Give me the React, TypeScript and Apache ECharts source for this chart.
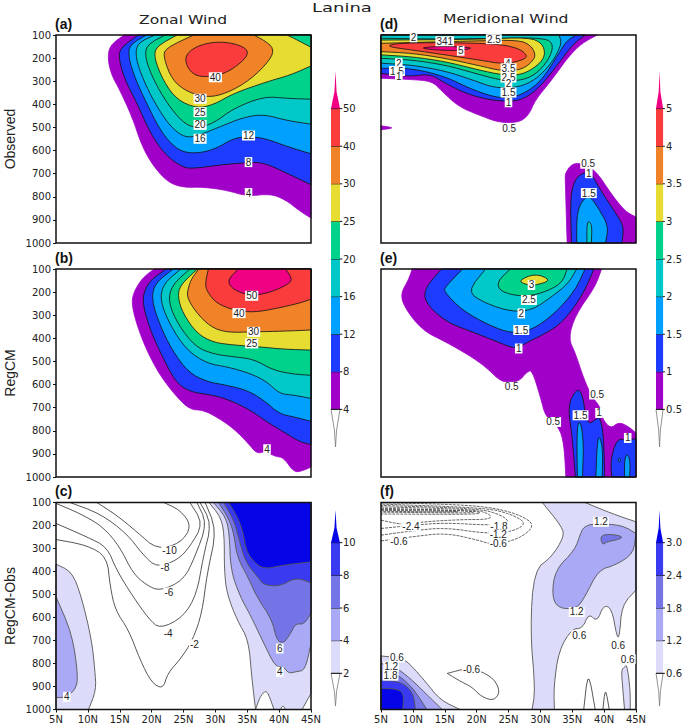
import React, { useEffect, useRef } from "react";
import * as echarts from "echarts";

type Pt = number[];
type Fill = [number, Pt[]];
type Label = [number, number, string];

const xTicks = [5, 10, 15, 20, 25, 30, 35, 40, 45];
const zonalLevels = [4, 8, 12, 16, 20, 25, 30, 40, 50];
const meridLevels = [0.5, 1, 1.5, 2, 2.5, 3, 3.5, 4, 5];
const zonalDiffLevels = [2, 4, 6, 8, 10];
const meridDiffLevels = [0.6, 1.2, 1.8, 2.4, 3.0];

const zonalObs: Fill[] = [
  [4, [[15.7,100],[13.5,143],[13.1,200],[13.7,273],[15,338],[16.9,452],[18.5,582],[20.3,669],[22.6,738],[25,760],[28.1,758],[31.8,772],[35,798],[38.6,787],[41,813],[43.3,863],[45,892],[45,100]]],
  [8, [[17.9,100],[15,158],[14.9,208],[15.8,294],[17.7,395],[19.8,525],[22.1,618],[25,676],[27.1,676],[30.8,662],[35,652],[37.6,652],[41.2,698],[45,748],[45,100]]],
  [12, [[19.2,100],[16.5,143],[16.4,200],[17.4,287],[19.2,395],[21.3,510],[23.2,575],[25,608],[27.6,611],[30.2,590],[32.9,546],[35.5,539],[38.1,550],[41.2,582],[45,614],[45,100]]],
  [16, [[20.5,100],[17.7,136],[17.5,200],[18.7,294],[20.5,395],[22.9,496],[25.3,546],[27.6,532],[30.2,503],[34.4,456],[37.6,443],[41.2,470],[45,486],[45,100]]],
  [20, [[22.1,100],[19.2,143],[19,200],[20.3,294],[22.4,395],[25,482],[27.1,503],[29.7,482],[32.9,417],[37.6,366],[41.2,374],[45,378],[45,100]]],
  [25, [[24,100],[20.7,150],[20.4,200],[21.9,302],[24,381],[27.1,417],[29.7,402],[32.9,352],[38.1,302],[41.8,273],[45,234],[45,153],[42.3,114],[41.2,100]]],
  [30, [[26.6,100],[22.1,158],[21.9,200],[23.2,294],[25.5,345],[28.7,371],[31.8,352],[35.5,294],[38.6,208],[39.2,158],[37.6,122],[36,100]]],
  [40, [[25.8,172],[27.6,143],[30.2,129],[32.9,136],[35,160],[35,194],[32.9,244],[30.8,273],[27.6,283],[26,258],[25.2,208]]],
];
const zonalObsLabels: Label[] = [[30,283,"40"],[27.6,376,"30"],[27.6,434,"25"],[27.6,489,"20"],[27.6,549,"16"],[35.2,535,"12"],[35.2,650,"8"],[35.2,784,"4"]];

const zonalModel: Fill[] = [
  [4, [[20.4,100],[18.5,140],[17.1,205],[16.9,256],[17.7,343],[19.2,451],[21.3,560],[23.9,653],[26,708],[28.1,711],[30.2,740],[32.9,791],[35.2,856],[36.5,899],[37.8,889],[39.4,911],[40.7,916],[42.3,979],[43.6,974],[45,957],[45,100]]],
  [8, [[22.3,100],[19.8,148],[18.7,205],[18.7,263],[19.8,364],[21.3,458],[23.7,588],[26,632],[29.7,646],[32.3,668],[35.5,711],[38.1,762],[40.7,805],[43.3,849],[45,859],[45,100]]],
  [12, [[23.4,100],[20.5,162],[20,234],[21.3,343],[23.2,451],[25.8,548],[28.7,588],[31.8,603],[35,625],[37.6,668],[40,726],[42.3,740],[45,759],[45,100]]],
  [16, [[24.6,100],[21.9,162],[21.3,234],[22.9,343],[25.5,451],[28.7,509],[31.8,523],[35.5,552],[38.1,588],[40,639],[42.3,646],[45,660],[45,100]]],
  [20, [[26,100],[23.2,169],[22.6,242],[24.2,343],[26.9,437],[29.7,468],[32.9,480],[36,490],[39.1,538],[42.3,555],[45,560],[45,100]]],
  [25, [[27.2,100],[24.5,169],[24.1,220],[24.9,292],[27.1,379],[29.7,418],[32.9,429],[37,437],[40.7,447],[45,451],[45,100]]],
  [30, [[27.4,100],[26.3,140],[25.8,177],[25.5,220],[26.9,285],[29.2,350],[31.8,375],[36,372],[40.7,369],[45,364],[45,100]]],
  [40, [[28.9,100],[28.4,162],[28.7,198],[30.2,249],[32.9,278],[36,288],[39.7,270],[43,249],[45,231],[45,100]]],
  [50, [[33.6,100],[31.8,151],[32.9,191],[35.5,216],[38.1,205],[40.7,177],[42.2,148],[41,100]]],
];
const zonalModelLabels: Label[] = [[35.7,216,"50"],[33.7,291,"40"],[36,372,"30"],[35.7,422,"25"],[38.1,880,"4"]];

const zonalDiff: Fill[] = [
  [2, [[5,368],[7.5,401],[9,510],[10.6,698],[11.1,829],[11.3,916],[10.1,1000],[5,1000]]],
  [4, [[5,510],[7.5,669],[8.5,858],[8,916],[6.4,948],[5,948]]],
  [2, [[29,100],[30.8,162],[31.4,235],[31.4,394],[31.8,496],[33.4,611],[35.2,698],[35.7,858],[36.3,1000],[37,945],[37.8,919],[38.3,930],[39.2,1000],[40.2,1000],[40.6,981],[41,1000],[43.6,1000],[45,930],[45,100]]],
  [4, [[29.7,100],[31.6,162],[32.2,235],[32.4,394],[33.9,510],[35.5,590],[37.6,713],[39.4,814],[40.7,814],[41.5,843],[42.6,836],[44.1,829],[45,713],[45,100]]],
  [6, [[30.5,100],[32.1,170],[32.9,235],[33.4,336],[35.2,430],[36.5,510],[38.9,611],[39.6,698],[40.7,713],[41.8,669],[42.6,626],[43.9,630],[45,582],[45,100]]],
  [8, [[31.3,100],[32.9,177],[33.6,249],[34.7,358],[36.8,430],[37.6,459],[40.2,464],[42.6,426],[45,449],[45,100]]],
  [10, [[32.1,100],[33.6,170],[34.4,235],[34.8,307],[36,358],[37.6,390],[40.7,372],[45,358],[45,100]]],
];
const zonalDiffLines: Pt[][] = [
  [[5,261],[9.8,285],[13,336],[13.5,466],[14.3,568],[16.4,655],[18.2,785],[20,884],[21.8,911],[22.5,843],[24.6,778],[26.4,700],[27.9,582],[28.7,409],[30.2,220],[28.4,100]],
  [[5,191],[9.8,249],[13,293],[14.5,394],[17.1,510],[19.5,604],[21.3,650],[25,597],[27.1,496],[28.1,336],[29.4,191],[27.6,100]],
  [[5,104],[8.8,148],[12.4,206],[15,293],[17.1,409],[19.2,459],[21.3,485],[25,438],[26.8,336],[28.7,191],[27.1,100]],
  [[7.2,100],[11.9,148],[16.1,235],[18.7,329],[20.8,382],[24,351],[26,293],[28.1,191],[26,100]],
  [[11.4,100],[14.5,155],[17.7,228],[20.8,304],[24.5,278],[26.3,203],[24.5,133],[21.9,100]],
];
const zonalDiffLabels: Label[] = [[22.8,310,"-10"],[22.1,384,"-8"],[22.7,491,"-6"],[22.6,669,"-4"],[26.7,717,"-2"],[6.7,945,"4"],[40.1,735,"6"],[40.1,836,"4"]];

const meridObs: Fill[] = [
  [0.5, [[5,287],[9.3,292],[13,299],[14.6,345],[17.2,410],[20.3,446],[23.5,479],[26.6,479],[28.2,446],[29.2,381],[31.8,294],[34.4,194],[36.5,136],[38.9,100],[5,100]]],
  [0.5, [[5,493],[7.2,502],[5,510]]],
  [1, [[5,266],[9.3,280],[12.7,268],[15.1,309],[18.2,352],[21.9,381],[25.5,388],[27.6,374],[30,323],[32.9,222],[35,143],[37,100],[5,100]]],
  [1.5, [[5,244],[9.9,244],[15.1,280],[18.8,330],[22.4,366],[25,374],[27.6,352],[30.3,294],[32.9,179],[34.2,122],[35.7,100],[5,100]]],
  [2, [[5,222],[9.9,230],[15.1,256],[19.3,294],[22.9,330],[26.6,326],[29.2,294],[31.8,222],[33.4,136],[32.9,100],[5,100]]],
  [2.5, [[5,201],[9.9,208],[15.1,230],[19.8,266],[23.5,294],[26.6,299],[29.2,273],[31.3,208],[32.1,143],[30.8,112],[23,114],[15.1,118],[5,114]]],
  [3, [[5,186],[9.9,194],[15.1,215],[20.3,251],[24,273],[27.1,273],[29.7,230],[30.8,186],[30.3,136],[28.2,110],[20.3,119],[5,122]]],
  [3.5, [[5,172],[9.9,179],[15.1,201],[20.3,232],[24,256],[27.1,251],[29,208],[29.2,179],[28.4,143],[26.6,122],[20.3,125],[5,136]]],
  [4, [[5.9,150],[9.9,165],[15.1,186],[20.3,208],[24.5,227],[27.6,205],[27.9,186],[26.6,158],[23.5,139],[15.1,132],[7.2,136]]],
  [5, [[10.9,155],[15.1,148],[19.8,155],[17.2,168],[13.5,165]]],
  [0.5, [[34.2,1000],[33.9,726],[33.9,698],[34.9,659],[36.3,654],[38.6,683],[41.2,791],[43.3,863],[45,888],[45,1000]]],
  [1, [[34.9,1000],[34.7,842],[35,755],[36,705],[37.8,690],[39.4,770],[41.8,870],[43.1,928],[42.8,1000]]],
  [1.5, [[35.7,1000],[35.7,885],[36.3,827],[37.6,791],[39.1,849],[40.7,928],[40.2,1000]]],
  [2, [[37.3,1000],[37.3,914],[37.7,906],[38.1,928],[38,1000]]],
];
const meridObsLabels: Label[] = [[10.1,110,"2"],[15,127,"341"],[22.7,118,"2.5"],[17.5,168,"5"],[24.9,222,"4"],[25,244,"3.5"],[25,284,"2.5"],[25,312,"2"],[25,349,"1.5"],[25,391,"1"],[25.1,503,"0.5"],[7.8,222,"2"],[7.5,256,"1.5"],[7.8,280,"1"],[37.5,657,"0.5"],[37.6,698,"1"],[37.6,784,"1.5"]];

const meridModel: Fill[] = [
  [0.5, [[9.9,100],[9.3,148],[8.1,205],[8.6,263],[11.4,364],[15.1,415],[18.8,473],[21.4,523],[24,593],[26.6,588],[27.9,545],[28.7,538],[30,653],[30.8,740],[32.9,783],[33.7,856],[34,1000],[45,1000],[45,810],[43.9,783],[42.3,762],[41,791],[39.7,747],[39.4,697],[38.1,653],[36.8,574],[35.5,465],[34.4,400],[35.5,299],[38.6,177],[39.6,100]]],
  [1, [[14.5,100],[12,177],[11.8,242],[15.1,328],[19.3,372],[22.9,411],[26.1,447],[27.6,422],[30.3,386],[32.9,343],[35,278],[37,191],[38.4,100]]],
  [1.5, [[17.8,100],[15.1,177],[14.9,198],[17.7,278],[21.9,343],[25.5,379],[28.7,364],[32.3,292],[35.5,191],[37,100]]],
  [2, [[21.4,100],[18.5,198],[21.4,249],[25.5,285],[28.7,278],[31.8,220],[34.4,162],[35.7,100]]],
  [2.5, [[25.3,100],[23.2,155],[23.7,198],[27.1,220],[30.3,205],[33.4,162],[34.2,100]]],
  [3, [[26.5,151],[29.2,119],[31.7,148],[29.5,169],[27.9,169]]],
  [1, [[34.3,689],[35.7,617],[36.6,639],[37.3,776],[38.9,747],[39.3,740],[39.9,812],[40.1,1000],[35.5,1000],[35,827]]],
  [1, [[41,928],[42,834],[43.6,841],[45,834],[45,1000],[41.2,1000]]],
  [1.5, [[35.8,1000],[35.7,783],[36.3,754],[36.8,856],[36.6,1000]]],
  [1.5, [[38.7,1000],[38.9,856],[39.3,819],[39.8,885],[39.7,1000]]],
  [1.5, [[43.2,1000],[43.2,921],[43.7,899],[44.1,935],[44,1000]]],
  [1.5, [[42.2,925],[42.4,918],[42.6,925],[42.4,938]]],
];
const meridModelLabels: Label[] = [[28.6,169,"3"],[28.2,234,"2.5"],[27,292,"2"],[27,364,"1.5"],[26.6,444,"1"],[25.5,610,"0.5"],[38.9,643,"0.5"],[36.3,733,"1.5"],[39.2,723,"1"],[32,762,"0.5"],[43.7,831,"1"]];

const meridDiff: Fill[] = [
  [0.6, [[30.3,100],[33.4,206],[33.7,249],[31.8,336],[29,394],[28.4,655],[29.2,916],[28.7,1000],[32.2,1000],[32.1,901],[32.9,742],[35,648],[36.6,648],[37.6,582],[38.9,619],[39.9,546],[41.2,561],[42,684],[42.4,684],[42.8,546],[45,481],[45,184],[41.2,148],[37,100]]],
  [0.6, [[42.7,830],[43.2,814],[43.6,807],[44.1,916],[44.1,1000],[43.2,1000],[42.9,901]]],
  [1.2, [[36.8,206],[38.4,191],[42.8,198],[45,235],[44.6,322],[41.8,372],[39.1,394],[37,510],[35.7,561],[32.9,561],[31.8,510],[32.3,394],[35.4,307],[36.3,235]]],
  [1.8, [[39.4,242],[41.2,238],[43,249],[42.2,261],[40.4,271],[39.7,285]]],
  [0.6, [[5,767],[8.6,778],[10.4,829],[12,880],[14.3,959],[17.4,1000],[5,1000]]],
  [1.2, [[5,800],[7.2,814],[9.6,865],[12,930],[14.6,1000],[5,1000]]],
  [1.8, [[5,836],[7.2,840],[9.9,901],[12.2,1000],[5,1000]]],
  [2.4, [[5,872],[8.3,880],[10.1,930],[10.4,1000],[5,1000]]],
  [3.0, [[5,908],[7.7,911],[8.6,937],[8.4,1000],[5,1000]]],
];
const meridDiffSolidLines: Pt[][] = [
  [[36.8,1000],[37.5,825],[38.6,1000]],
  [[39.8,1000],[40.2,901],[40.8,1000]],
  [[15.4,843],[18.4,821],[20.3,829],[22.7,865],[23.7,923],[22.7,962],[20.8,945],[19.2,901],[17.6,880],[15.4,843]],
];
const meridDiffDashedLines: Pt[][] = [
  [[5,267],[9.9,249],[15.1,232],[20.3,264],[22.4,283],[26.5,261],[29.3,199],[26.6,151],[21.9,119],[15.1,107],[5,101]],
  [[5,242],[9.9,223],[15.1,209],[21.4,235],[25.5,228],[27.9,191],[25.5,151],[21.4,123],[5,107]],
  [[5,213],[9.9,199],[15.1,188],[21.9,199],[25.3,191],[24,155],[20.3,126],[5,113]],
  [[5,177],[8.8,199],[11.4,184],[17.7,174],[21.9,174],[22.4,155],[19.8,130],[5,119]],
  [[5,125],[19,136],[21,145],[19,152],[5,150]],
  [[5,130],[18,135],[20,142],[18,146],[5,142]],
  [[5,134],[17,138],[17,142],[5,138]],
];
const meridDiffLabels: Label[] = [[39.5,184,"1.2"],[9.7,203,"-2.4"],[23.5,206,"-1.8"],[23.4,239,"-1.2"],[23.4,278,"-0.6"],[7.8,268,"-0.6"],[35.7,576,"1.2"],[36.1,677,"0.6"],[42.2,723,"0.6"],[43.7,781,"0.6"],[7.5,774,"0.6"],[6.6,812,"1.2"],[6.5,853,"1.8"],[19.2,826,"-0.6"]];

const rainbow = ["#a000c8", "#1e3cff", "#00a0ff", "#00c8c8", "#00d28c", "#e6dc32", "#f08228", "#fa3c3c", "#f00082"];
const blues = ["#dcdcfa", "#a9a9f5", "#7474e6", "#3a3af0", "#0505e8"];
const ink = "#111";
const FONT = "DejaVu Sans";

const panels = [
  { name: "Observed", left: 56, top: 35, h: 208, levels: zonalLevels, colors: rainbow, fills: zonalObs, solid: [], dashed: [], labels: zonalObsLabels, outer: false, xl: false, yl: true },
  { name: "RegCM", left: 56, top: 269, h: 208, levels: zonalLevels, colors: rainbow, fills: zonalModel, solid: [], dashed: [], labels: zonalModelLabels, outer: false, xl: false, yl: true },
  { name: "RegCM-Obs", left: 56, top: 502.5, h: 207, levels: zonalDiffLevels, colors: blues, fills: zonalDiff, solid: zonalDiffLines, dashed: [], labels: zonalDiffLabels, outer: true, xl: true, yl: true },
  { name: "", left: 381, top: 35, h: 208, levels: meridLevels, colors: rainbow, fills: meridObs, solid: [], dashed: [], labels: meridObsLabels, outer: false, xl: false, yl: false },
  { name: "", left: 381, top: 269, h: 208, levels: meridLevels, colors: rainbow, fills: meridModel, solid: [], dashed: [], labels: meridModelLabels, outer: false, xl: false, yl: false },
  { name: "", left: 381, top: 502.5, h: 207, levels: meridDiffLevels, colors: blues, fills: meridDiff, solid: meridDiffSolidLines, dashed: meridDiffDashedLines, labels: meridDiffLabels, outer: true, xl: true, yl: false },
];

const bars = [
  { left: 331, top: 71, h: 376, labels: zonalLevels.map(String), colors: rainbow },
  { left: 656, top: 71, h: 376, labels: meridLevels.map(String), colors: rainbow },
  { left: 331, top: 510, h: 196, labels: zonalDiffLevels.map(String), colors: blues },
  { left: 656, top: 510, h: 196, labels: meridDiffLevels.map((v) => v.toFixed(1)), colors: blues },
];

// Rounds the drawn outline of a contour; vertices on the panel's frame stay where they are.
const onFrame = (q: Pt) => q[0] <= 5 || q[0] >= 45 || q[1] <= 100 || q[1] >= 1000;
function rounded(pts: Pt[], closed: boolean, passes = 2): Pt[] {
  let cur = pts;
  for (let s = 0; s < passes; s++) {
    const out: Pt[] = [];
    const n = cur.length;
    for (let i = 0; i < n; i++) {
      const a = cur[i];
      const b = cur[(i + 1) % n];
      if (!closed && i === n - 1) {
        out.push(a);
        break;
      }
      if (!closed && i === 0) out.push(a);
      const keepA = onFrame(a);
      const keepB = onFrame(b);
      if (keepA && closed) out.push(a);
      if (!keepA) out.push([0.75 * a[0] + 0.25 * b[0], 0.75 * a[1] + 0.25 * b[1]]);
      if (!keepB) out.push([0.25 * a[0] + 0.75 * b[0], 0.25 * a[1] + 0.75 * b[1]]);
    }
    cur = out;
  }
  return cur;
}

function buildOption() {
  const grid: any[] = [];
  const xAxis: any[] = [];
  const yAxis: any[] = [];
  const series: any[] = [];

  panels.forEach((p, i) => {
    grid.push({ left: p.left, top: p.top, width: 255, height: p.h });
    xAxis.push({
      gridIndex: i, type: "value", min: xTicks[0], max: xTicks[xTicks.length - 1], interval: 5, splitLine: { show: false },
      axisLine: { show: false },
      axisTick: { show: p.xl, length: 3, lineStyle: { color: ink } },
      axisLabel: { show: p.xl, margin: 5, fontFamily: FONT, fontSize: 10, color: "#222", hideOverlap: false, formatter: (v: number) => v + "N" },
    });
    yAxis.push({
      gridIndex: i, type: "value", inverse: true, min: 100, max: 1000, interval: 100, splitLine: { show: false },
      axisLine: { show: false },
      axisTick: { show: p.yl, length: 3, lineStyle: { color: ink } },
      axisLabel: { show: p.yl, margin: 5, fontFamily: FONT, fontSize: 10, color: "#222", formatter: (v: number) => String(v) },
      name: p.name, nameLocation: "middle", nameGap: 39, nameRotate: 90,
      nameTextStyle: { fontFamily: "Liberation Sans", fontSize: 14, color: "#222" },
    });

    type Item = { kind: string; pts?: Pt[]; level?: number; dashed?: boolean; text?: string };
    const items: Item[] = [
      ...p.fills.map(([level, pts]) => ({ kind: "fill", level, pts })),
      ...(p.solid as Pt[][]).map((pts) => ({ kind: "line", pts, dashed: false })),
      ...(p.dashed as Pt[][]).map((pts) => ({ kind: "line", pts, dashed: true })),
      { kind: "frame" },
      ...p.labels.map(([x, y, text]) => ({ kind: "label", pts: [[x, y]], text })),
    ];
    series.push({
      type: "custom", xAxisIndex: i, yAxisIndex: i, clip: false, silent: true,
      data: items.map((_, k) => [5, 100, k]),
      encode: { x: 0, y: 1 },
      renderItem: (params: any, api: any) => {
        const it = items[params.dataIndex];
        if (it.kind === "fill") {
          const idx = p.levels.indexOf(it.level as number);
          const fill = p.colors[idx];
          const outerEdge = idx === 0 && !p.outer;
          return {
            type: "polygon",
            shape: { points: rounded(it.pts as Pt[], true).map((q) => api.coord(q)) },
            style: { fill, stroke: outerEdge ? fill : p.outer ? "#555" : "#111", lineWidth: p.outer ? 0.9 : 0.8 },
          };
        }
        if (it.kind === "line") {
          return {
            type: "polyline",
            shape: { points: rounded(it.pts as Pt[], false).map((q) => api.coord(q)) },
            style: { fill: "none", stroke: it.dashed ? "#555" : "#444", lineWidth: 0.9, lineDash: it.dashed ? [3, 1] : undefined },
          };
        }
        if (it.kind === "frame") {
          const a = api.coord([5, 100]);
          const b = api.coord([45, 1000]);
          return {
            type: "rect",
            shape: { x: a[0], y: a[1], width: b[0] - a[0], height: b[1] - a[1] },
            style: { fill: "none", stroke: "#111", lineWidth: 1.5 },
          };
        }
        const c = api.coord((it.pts as Pt[])[0]);
        return {
          type: "text", x: c[0], y: c[1],
          style: {
            text: it.text, align: "center", verticalAlign: "middle", fill: "#222",
            font: `10px "Liberation Sans"`, backgroundColor: "#fff", padding: [0, 1],
          },
        };
      },
    });
  });

  bars.forEach((b, j) => {
    const i = panels.length + j;
    const n = b.labels.length;
    grid.push({ left: b.left, top: b.top, width: 9, height: b.h });
    xAxis.push({ gridIndex: i, type: "value", min: 0, max: 1, show: false });
    yAxis.push({
      gridIndex: i, type: "value", position: "right", min: -1, max: n, interval: 1,
      splitLine: { show: false }, axisLine: { show: false },
      axisTick: { show: false },
      axisLabel: {
        margin: 3, fontFamily: FONT, fontSize: 10, color: "#222", showMinLabel: false, showMaxLabel: false,
        formatter: (v: number) => (v >= 0 && v < n ? b.labels[v] : ""),
      },
    });
    const segs = b.colors.map((c, k) => ({ c, k }));
    series.push({
      type: "custom", xAxisIndex: i, yAxisIndex: i, clip: false, silent: true,
      data: [...segs.map((s) => [0, s.k]), [0, -1], [0, n]],
      encode: { x: 0, y: 1 },
      renderItem: (params: any, api: any) => {
        const idx = params.dataIndex;
        if (idx < n - 1) {
          const a = api.coord([0, idx + 1]);
          const c = api.coord([1, idx]);
          const t = api.coord([1.25, idx + 1]);
          return {
            type: "group",
            children: [
              { type: "rect", shape: { x: a[0], y: a[1], width: c[0] - a[0], height: c[1] - a[1] }, style: { fill: b.colors[idx] } },
              { type: "line", shape: { x1: a[0], y1: a[1], x2: t[0], y2: t[1] }, style: { stroke: "#111", lineWidth: 1 } },
            ],
          };
        }
        if (idx === n - 1) {
          const tri = [[0, n - 1], [1, n - 1], [0.62, n - 0.55], [0.5, n], [0.38, n - 0.55]];
          return { type: "polygon", shape: { points: tri.map((q) => api.coord(q)) }, style: { fill: b.colors[n - 1] } };
        }
        if (idx === n) {
          const tri = [[0, 0], [1, 0], [0.62, -0.55], [0.5, -1], [0.38, -0.55]];
          const a = api.coord([0, 0]);
          const t = api.coord([1.25, 0]);
          return {
            type: "group",
            children: [
              { type: "polygon", shape: { points: tri.map((q) => api.coord(q)) }, style: { fill: "#fff", stroke: "#777", lineWidth: 0.8 } },
              { type: "line", shape: { x1: a[0], y1: a[1], x2: t[0], y2: t[1] }, style: { stroke: "#111", lineWidth: 1 } },
            ],
          };
        }
        return { type: "group", children: [] };
      },
    });
  });

  const tag = (text: string, x: number, y: number) => ({
    type: "text", x, y,
    style: { text, fill: "#111", font: `bold 14px "Liberation Sans"`, textVerticalAlign: "middle" },
  });
  const head = (text: string, x: number, y: number, scaleX: number) => ({
    type: "text", x, y, scaleX,
    style: { text, fill: "#222", font: `12px "DejaVu Sans"`, textVerticalAlign: "middle" },
  });

  return {
    animation: false,
    backgroundColor: "#fff",
    grid, xAxis, yAxis, series,
    graphic: [
      head("Lanina", 312, 8, 1.5),
      head("Zonal Wind", 139, 20, 1.3),
      head("Meridional Wind", 443, 19, 1.3),
      tag("(a)", 55, 24), tag("(b)", 55, 258), tag("(c)", 55, 491),
      tag("(d)", 380, 24), tag("(e)", 380, 258), tag("(f)", 380, 491),
    ],
  };
}

export default function App() {
  const ref = useRef<HTMLDivElement>(null);
  useEffect(() => {
    const chart = echarts.init(ref.current as HTMLDivElement, undefined, { renderer: "svg" });
    chart.setOption(buildOption() as any);
    return () => chart.dispose();
  }, []);
  return <div ref={ref} style={{ position: "absolute", left: 0, top: 0, width: 685, height: 726 }} />;
}
